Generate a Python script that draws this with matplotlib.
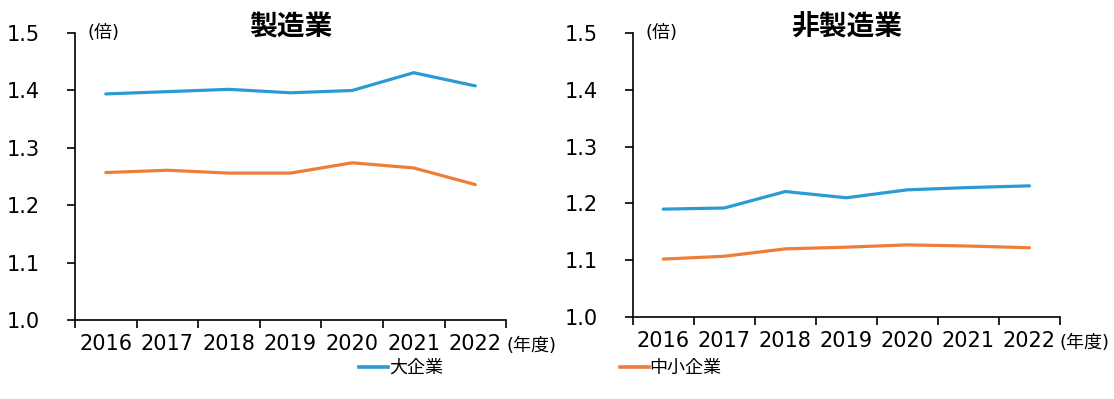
import matplotlib.pyplot as plt
from matplotlib.lines import Line2D

plt.rcParams['font.family'] = ['DejaVu Sans', 'Noto Sans CJK JP']

years = ['2016', '2017', '2018', '2019', '2020', '2021', '2022']

# 製造業
mfg_large = [1.394, 1.398, 1.402, 1.396, 1.400, 1.431, 1.408]
mfg_sme = [1.257, 1.261, 1.256, 1.256, 1.274, 1.265, 1.236]

# 非製造業
nonmfg_large = [1.190, 1.192, 1.221, 1.210, 1.224, 1.228, 1.231]
nonmfg_sme = [1.102, 1.107, 1.120, 1.123, 1.127, 1.125, 1.122]

yticks = [1.0, 1.1, 1.2, 1.3, 1.4, 1.5]

blue = '#2B9BD3'
orange = '#EE7D3A'

fig = plt.figure(figsize=(11.14, 3.99), dpi=100)
ax1 = fig.add_axes([0.0673, 0.198, 0.387, 0.719])
ax2 = fig.add_axes([0.568, 0.2055, 0.3835, 0.7115])


def draw_panel(ax, large, sme, title):
    x = list(range(len(years)))
    ax.plot(x, large, color=blue, lw=2.3, solid_capstyle='round')
    ax.plot(x, sme, color=orange, lw=2.3, solid_capstyle='round')
    ax.set_xlim(-0.5, len(years) - 0.5)
    ax.set_ylim(1.0, 1.5)
    ax.set_yticks(yticks)
    ax.set_yticklabels([f'{v:.1f}' for v in yticks], fontsize=15)
    ax.tick_params(axis='y', direction='out', length=6, width=1.2, pad=19)
    # tick marks at category boundaries, labels at centres
    ax.set_xticks([i - 0.5 for i in range(len(years) + 1)])
    ax.set_xticklabels([])
    ax.set_xticks(x, minor=True)
    ax.set_xticklabels(years, minor=True, fontsize=15)
    ax.tick_params(axis='x', which='major', direction='out', length=6, width=1.2)
    ax.tick_params(axis='x', which='minor', length=0, pad=10)
    for s in ['top', 'right']:
        ax.spines[s].set_visible(False)
    for s in ['left', 'bottom']:
        ax.spines[s].set_linewidth(1.2)
    ax.text(0.03, 1.0, '(倍)', transform=ax.transAxes, fontsize=13,
            ha='left', va='center')
    ax.text(0.5, 1.02, title, transform=ax.transAxes, fontsize=20,
            fontweight='bold', ha='center', va='center')
    ax.text(1.0, -0.06, '(年度)', transform=ax.transAxes, fontsize=13,
            ha='left', va='top')


draw_panel(ax1, mfg_large, mfg_sme, '製造業')
draw_panel(ax2, nonmfg_large, nonmfg_sme, '非製造業')

handles = [Line2D([], [], color=blue, lw=2.6),
           Line2D([], [], color=orange, lw=2.6)]
fig.legend(handles, ['大企業', '中小企業'], loc='center', ncol=2,
           bbox_to_anchor=(0.485, 0.078), frameon=False, fontsize=13,
           handlelength=1.6, handletextpad=0.05, columnspacing=9.8)

fig.savefig('out.png', dpi=100)
